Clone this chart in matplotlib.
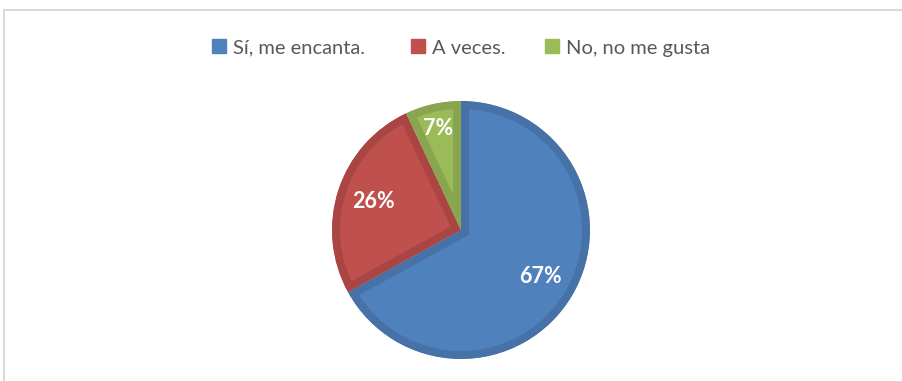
import matplotlib
matplotlib.use('Agg')
import matplotlib.pyplot as plt
from matplotlib.lines import Line2D
from matplotlib.patches import Rectangle

# datos del grafico
respuestas = ['Sí, me encanta.', 'A veces.', 'No, no me gusta']
porcentajes = [67, 26, 7]
colores = ['#4F81BD', '#C0504D', '#9BBB59']
bordes = ['#4672A8', '#A94643', '#8AA54F']

plt.rcParams['font.family'] = ['Lato', 'DejaVu Sans']

W, H = 903, 381
fig = plt.figure(figsize=(W / 100, H / 100), dpi=100)

# marco gris del area del grafico
fig.patches.append(Rectangle((4.5 / W, -0.1), 1.2, (H - 10.5) / H + 0.1,
                             transform=fig.transFigure, fill=False,
                             edgecolor='#D9D9D9', linewidth=1.5))

cx, cy, r = 461, H - 230, 129
half = 140
ax = fig.add_axes([(cx - half) / W, (cy - half) / H, 2 * half / W, 2 * half / H])
wedges, textos, autotextos = ax.pie(
    porcentajes, colors=colores, startangle=90, counterclock=False,
    autopct='%1.0f%%', pctdistance=0.715, radius=1,
    wedgeprops=dict(linewidth=11.5, joinstyle='miter'),
    textprops=dict(color='white', fontsize=15.5, fontweight='bold'))
# borde oscuro solo hacia adentro, como en Excel
for w, b in zip(wedges, bordes):
    w.set_edgecolor(b)
    w.set_clip_on(True)
    w.set_clip_path(w)
# la etiqueta del 7% va mas afuera
x, y = autotextos[2].get_position()
autotextos[2].set_position((x * 0.805 / 0.715, y * 0.805 / 0.715))
lim = half / r
ax.set_xlim(-lim, lim)
ax.set_ylim(-lim, lim)
ax.set_aspect('equal')
ax.axis('off')

# leyenda arriba, una entrada por posicion
pos_leyenda = [210, 409, 543]
for etiqueta, c, px in zip(respuestas, colores, pos_leyenda):
    h = Line2D([], [], marker='s', linestyle='none', markersize=10.5,
               markerfacecolor=c, markeredgecolor=c)
    fig.legend([h], [etiqueta], loc='center left',
               bbox_to_anchor=(px / W, 1 - 48 / H),
               frameon=False, fontsize=14.5, labelcolor='#595959',
               handlelength=0.85, handletextpad=0.3,
               borderpad=0, borderaxespad=0)

plt.savefig('out.png', dpi=100)
plt.close()
